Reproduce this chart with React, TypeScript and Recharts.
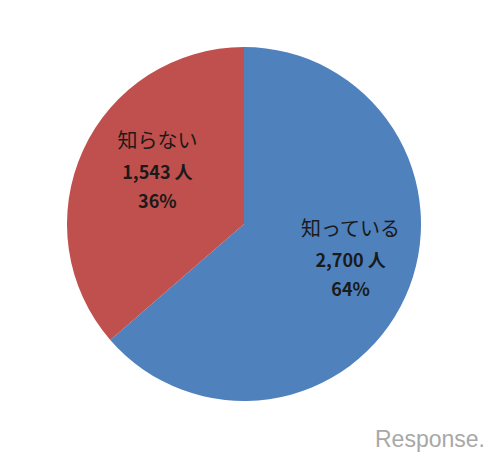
import { PieChart, Pie, Cell } from "recharts";

// 回答の区分と人数
const categories = ["知っている", "知らない"];
const counts = [2700, 1543];
const percents = [64, 36];
const COLORS = ["#4F81BD", "#C0504D"];

const data = categories.map((name, i) => ({ name, value: counts[i], pct: percents[i] }));

const RADIAN = Math.PI / 180;

// スライス内にラベル3行を描く
const renderLabel = (props: any) => {
  const { cx, cy, midAngle, outerRadius, index } = props;
  const r = outerRadius * 0.6;
  const x = cx + r * Math.cos(-midAngle * RADIAN) + 10;
  const y = cy + r * Math.sin(-midAngle * RADIAN) - 10;
  const d = data[index];
  return (
    <text x={x} y={y} textAnchor="middle" fill="#1a1a1a" fontFamily="'Noto Sans CJK JP', 'Noto Sans', sans-serif">
      <tspan x={x} dy={-22} fontSize={20}>{d.name}</tspan>
      <tspan x={x} dy={31} fontSize={18} fontWeight="bold">{d.value.toLocaleString()} 人</tspan>
      <tspan x={x} dy={29} fontSize={18} fontWeight="bold">{d.pct}%</tspan>
    </text>
  );
};

export default function App() {
  return (
    <div style={{ position: "relative", width: 484, height: 444 }}>
      <PieChart width={484} height={444}>
        <Pie
          data={data}
          dataKey="value"
          cx={231}
          cy={211}
          outerRadius={177}
          startAngle={90}
          endAngle={-270}
          stroke="none"
          label={renderLabel}
          labelLine={false}
          isAnimationActive={false}
        >
          {data.map((d, i) => (
            <Cell key={d.name} fill={COLORS[i]} />
          ))}
        </Pie>
      </PieChart>
      {/* ロゴ */}
      <span
        style={{
          position: "absolute",
          left: 367,
          top: 418,
          fontFamily: "'Liberation Sans', sans-serif",
          fontSize: 23,
          color: "#a8a8a8",
        }}
      >
        Response.
      </span>
    </div>
  );
}
